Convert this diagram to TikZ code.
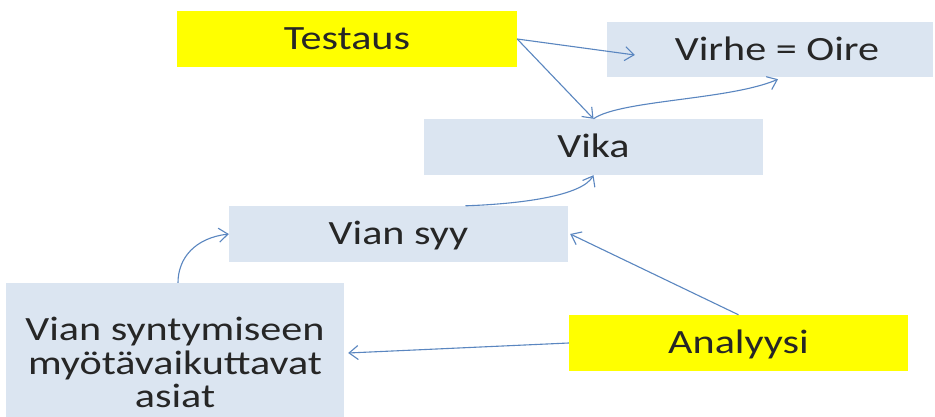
\documentclass[tikz,border=0pt]{standalone}
\usepackage{fontspec}
\setmainfont{Carlito}[FakeStretch=1.24]
\usetikzlibrary{arrows.meta}
\definecolor{boxblue}{HTML}{DBE5F1}
\definecolor{hiyellow}{HTML}{FFFF00}
\definecolor{arrowblue}{HTML}{5A86C0}
\definecolor{txt}{HTML}{262626}
\tikzset{
  basebox/.style={rectangle, inner sep=0pt, text height=21.9pt, text depth=0pt,
    font=\fontsize{34}{33.5}\selectfont, text=txt},
  bluebox/.style={basebox, fill=boxblue},
  yellowbox/.style={basebox, fill=hiyellow},
  link/.style={draw=arrowblue, line width=1.1pt, -{Straight Barb[length=9pt,width=14pt]}},
}
\begin{document}
\begin{tikzpicture}[x=1pt,y=-1pt]
\useasboundingbox[fill=white] (0,0) rectangle (935,417);
% boxes
\node[yellowbox, minimum width=340pt, minimum height=56pt] (testaus) at (347,39) {Testaus};
\node[bluebox, minimum width=326pt, minimum height=55pt] (virhe) at (770,49.5) {\hspace*{14pt}Virhe = Oire};
\node[bluebox, minimum width=339pt, minimum height=56pt] (vika) at (593.5,147) {Vika};
\node[bluebox, minimum width=339pt, minimum height=56pt] (viansyy) at (398.5,234) {Vian syy};
\node[yellowbox, minimum width=339pt, minimum height=56pt] (analyysi) at (738.5,343) {Analyysi};
\node[bluebox, minimum width=338pt, minimum height=134pt] (causes) at (175,350) {};
\node[rectangle, inner sep=0pt, align=center, font=\fontsize{34}{33.5}\selectfont, text=txt]
  (causestext) at (175,362.5) {Vian syntymiseen\\myötävaikuttavat\\asiat};
% connectors
\draw[link] (testaus.east) -- ([xshift=28pt,yshift=-5.5pt]virhe.west);
\draw[link] (testaus.east) -- (vika.north);
\draw[link] (vika.north) .. controls (620,100) and (730,100) .. ([xshift=8pt,yshift=-2pt]virhe.south);
\draw[link] ([xshift=67pt]viansyy.north) .. controls (520,204) and (582,196) .. (vika.south);
\draw[link] ([xshift=3pt]causes.north) .. controls (178,258) and (195,238) .. (viansyy.west);
\draw[link] (analyysi.north) -- ([xshift=2pt]viansyy.east);
\draw[link] (analyysi.west) -- ([xshift=4pt,yshift=-3pt]causes.east);
\end{tikzpicture}
\end{document}
